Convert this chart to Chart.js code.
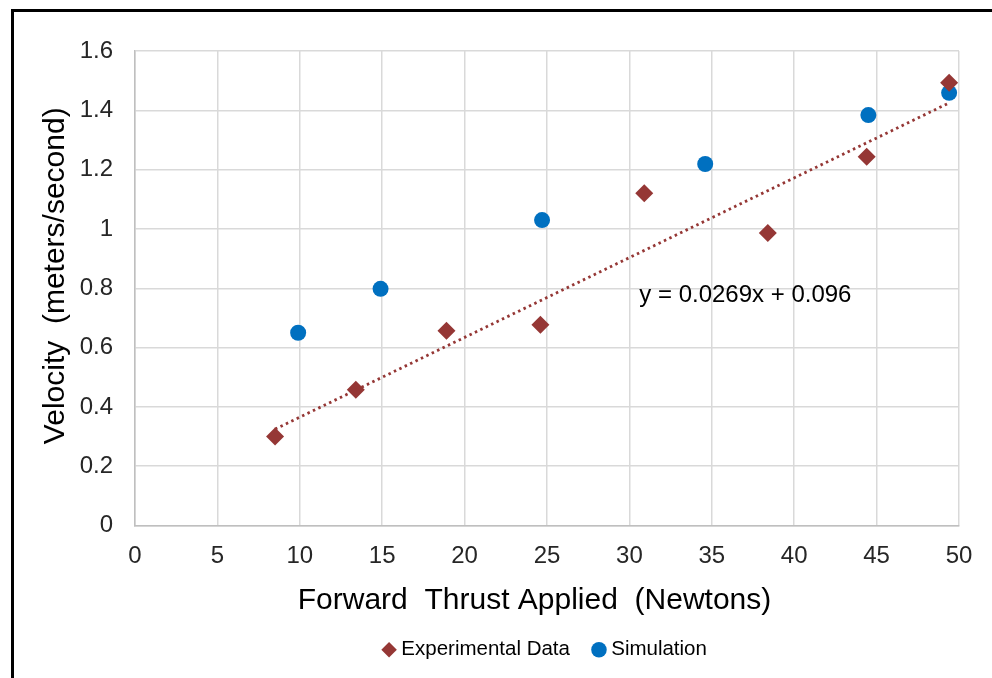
<!DOCTYPE html>
<html>
<head>
<meta charset="utf-8">
<script src="https://cdn.jsdelivr.net/npm/chart.js@4.4.1/dist/chart.umd.min.js"></script>
<style>
    body { margin: 0; background: #fff; overflow: hidden; }
    #wrap { position: relative; width: 992px; height: 678px; }
    #frame { position: absolute; left: 11px; top: 9px; right: -10px; bottom: -10px;
             border-left: 3px solid #000; border-top: 3px solid #000; pointer-events: none; }
    canvas { position: absolute; left: 0; top: 0; }
</style>
</head>
<body>
<div id="wrap">
    <canvas id="thrustChart" width="992" height="678"></canvas>
    <div id="frame"></div>
</div>
<script>
// Experimental measurements (thrust in N, velocity in m/s)
const expThrust = [8.5, 13.4, 18.9, 24.6, 30.9, 38.4, 44.4, 49.4];
const expVelocity = [0.30, 0.458, 0.657, 0.677, 1.12, 0.986, 1.243, 1.493];

// Simulation results
const simThrust = [9.9, 14.9, 24.7, 34.6, 44.5, 49.4];
const simVelocity = [0.65, 0.798, 1.03, 1.219, 1.384, 1.459];

// Linear trendline ends
const trendThrust = [8.5, 49.4];
const trendVelocity = [0.325, 1.425];
const trendLabel = 'y = 0.0269x + 0.096';

// Axis tick labels
const xTickLabels = ['0', '5', '10', '15', '20', '25', '30', '35', '40', '45', '50'];
const yTickLabels = ['0', '0.2', '0.4', '0.6', '0.8', '1', '1.2', '1.4', '1.6'];

const FONT = 'Liberation Sans, Arial, sans-serif';
const RED = '#953735';
const BLUE = '#0070C0';

function toPoints(xs, ys) {
    return xs.map((x, i) => ({ x: x, y: ys[i] }));
}

// Writes the trendline equation inside the plot
const equationLabel = {
    id: 'equationLabel',
    afterDatasetsDraw(chart) {
        const ctx = chart.ctx;
        const x = chart.scales.x.getPixelForValue(30.6);
        const y = chart.scales.y.getPixelForValue(0.775);
        ctx.save();
        ctx.font = '24px ' + FONT;
        ctx.fillStyle = '#000';
        ctx.textAlign = 'left';
        ctx.textBaseline = 'middle';
        ctx.fillText(trendLabel, x, y);
        ctx.restore();
    }
};

const ctx = document.getElementById('thrustChart').getContext('2d');

new Chart(ctx, {
    type: 'scatter',
    data: {
        datasets: [
            {
                label: 'Trendline',
                data: toPoints(trendThrust, trendVelocity),
                showLine: true,
                borderColor: RED,
                borderWidth: 2.8,
                borderDash: [2.5, 3.5],
                pointRadius: 0,
                order: 0
            },
            {
                label: 'Experimental Data',
                data: toPoints(expThrust, expVelocity),
                pointStyle: 'rectRot',
                pointRadius: 9,
                backgroundColor: RED,
                borderColor: RED,
                borderWidth: 0,
                order: 1
            },
            {
                label: 'Simulation',
                data: toPoints(simThrust, simVelocity),
                pointStyle: 'circle',
                pointRadius: 8,
                backgroundColor: BLUE,
                borderColor: BLUE,
                borderWidth: 0,
                order: 2
            }
        ]
    },
    options: {
        responsive: false,
        animation: false,
        devicePixelRatio: 1,
        layout: {
            padding: { left: 38, top: 51, right: 33, bottom: 8 }
        },
        plugins: {
            tooltip: { enabled: false },
            legend: {
                position: 'bottom',
                fullSize: false,
                labels: {
                    usePointStyle: true,
                    boxHeight: 11,
                    boxWidth: 4,
                    padding: 27,
                    color: '#000',
                    font: { size: 20.5, family: FONT },
                    filter: (item) => item.text !== 'Trendline'
                }
            }
        },
        scales: {
            x: {
                type: 'linear',
                min: 0,
                max: 50,
                afterFit: (scale) => { scale.height = 87; },
                border: { color: '#bfbfbf', width: 1.5 },
                grid: { color: '#d9d9d9', lineWidth: 1.5, drawTicks: false },
                ticks: {
                    stepSize: 5,
                    padding: 16,
                    color: '#262626',
                    font: { size: 24, family: FONT },
                    maxRotation: 0,
                    callback: (value, index) => xTickLabels[index]
                },
                title: {
                    display: true,
                    text: 'Forward  Thrust Applied  (Newtons)   ',
                    color: '#000',
                    padding: { top: 0, bottom: -6 },
                    font: { size: 30, family: FONT }
                }
            },
            y: {
                min: 0,
                max: 1.6,
                afterFit: (scale) => { scale.width = 97; },
                border: { color: '#bfbfbf', width: 1.5 },
                grid: { color: '#d9d9d9', lineWidth: 1.5, drawTicks: false },
                ticks: {
                    stepSize: 0.2,
                    padding: 22,
                    color: '#262626',
                    font: { size: 24, family: FONT },
                    callback: (value, index) => yTickLabels[index]
                },
                title: {
                    display: true,
                    text: '   Velocity  (meters/second)',
                    color: '#000',
                    padding: { top: 0, bottom: 0 },
                    font: { size: 30, family: FONT }
                }
            }
        }
    },
    plugins: [equationLabel]
});
</script>
</body>
</html>
